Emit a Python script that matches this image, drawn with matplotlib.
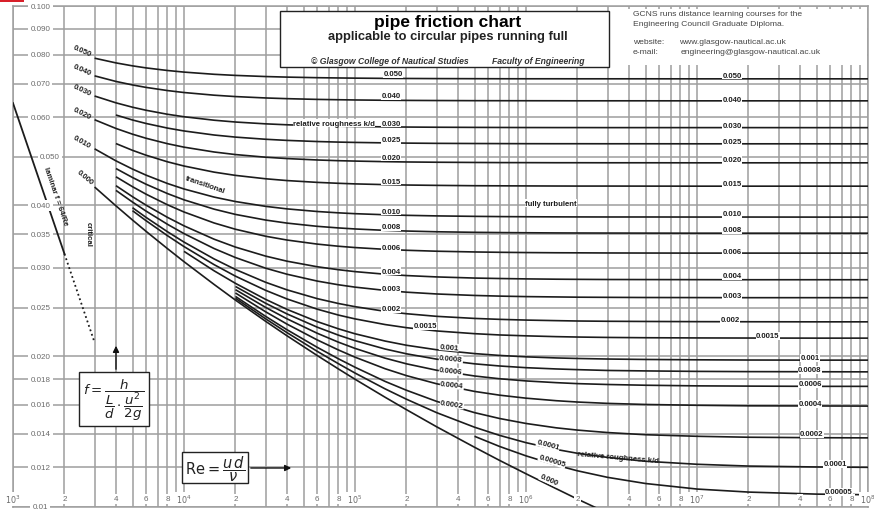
import numpy as np
import matplotlib
matplotlib.use('Agg')
import matplotlib.pyplot as plt
from matplotlib.patches import Rectangle
from matplotlib.ticker import LogLocator, FixedLocator, NullLocator, NullFormatter

# ---------------- data ----------------
re_grid = [3e3, 4e3, 5e3, 6e3, 8e3, 1e4, 1.5e4, 2e4, 3e4, 4e4, 6e4, 8e4, 1e5, 1.5e5,
           2e5, 3e5, 5e5, 7e5, 1e6, 1.5e6, 2e6, 3e6, 5e6, 1e7, 2e7, 5e7, 1e8]

rel_roughness = [0.05, 0.04, 0.03, 0.025, 0.02, 0.015, 0.01, 0.008, 0.006, 0.004, 0.003,
                 0.002, 0.0015, 0.001, 0.0008, 0.0006, 0.0004, 0.0002, 0.0001, 0.00005, 0.0]
roughness_labels = ['0.050', '0.040', '0.030', '0.025', '0.020', '0.015', '0.010', '0.008',
                    '0.006', '0.004', '0.003', '0.002', '0.0015', '0.001', '0.0008', '0.0006',
                    '0.0004', '0.0002', '0.0001', '0.00005', '0.000']
start_re = [3e3, 3e3, 3e3, 4e3, 3e3, 4e3, 3e3, 4e3, 4e3, 4e3, 4e3,
            5e3, 5e3, 1e4, 2e4, 2e4, 2e4, 2e4, 2e4, 5e5, 3e3]

f_0050 = [.07867, .07699, .07595, .07524, .07435, .07380, .07306, .07269, .07231, .07212, .07193, .07184, .07178, .07170,
          .07167, .07163, .07160, .07158, .07157, .07157, .07156, .07156, .07156, .07155, .07155, .07155, .07155]
f_0040 = [.07254, .07070, .06957, .06879, .06780, .06719, .06637, .06595, .06553, .06532, .06510, .06500, .06493, .06484,
          .06480, .06476, .06472, .06471, .06470, .06469, .06468, .06468, .06468, .06467, .06467, .06467, .06467]
f_0030 = [.06612, .06408, .06280, .06193, .06080, .06011, .05916, .05867, .05818, .05793, .05768, .05756, .05748, .05738,
          .05733, .05728, .05724, .05722, .05720, .05719, .05719, .05718, .05718, .05718, .05718, .05717, .05717]
f_0025 = [.06059, .05922, .05828, .05706, .05631, .05527, .05474, .05420, .05392, .05364, .05350, .05342, .05331,
          .05325, .05319, .05315, .05313, .05311, .05310, .05310, .05309, .05309, .05308, .05308, .05308, .05308]
f_0020 = [.05929, .05696, .05548, .05445, .05311, .05227, .05112, .05052, .04991, .04960, .04928, .04912, .04903, .04890,
          .04883, .04877, .04872, .04869, .04868, .04866, .04866, .04865, .04865, .04864, .04864, .04864, .04864]
f_0015 = [.05314, .05151, .05037, .04887, .04793, .04660, .04591, .04520, .04483, .04446, .04427, .04415, .04400,
          .04392, .04385, .04378, .04376, .04374, .04372, .04371, .04371, .04370, .04369, .04369, .04369, .04369]
f_0010 = [.05187, .04908, .04726, .04596, .04423, .04313, .04155, .04071, .03982, .03936, .03889, .03865, .03850, .03831,
          .03821, .03811, .03803, .03799, .03796, .03794, .03793, .03792, .03792, .03791, .03791, .03790, .03790]
f_0008 = [.04738, .04546, .04408, .04223, .04103, .03931, .03837, .03739, .03687, .03633, .03606, .03589, .03566,
          .03555, .03543, .03534, .03530, .03527, .03524, .03523, .03522, .03521, .03520, .03520, .03520, .03520]
f_0006 = [.04562, .04358, .04211, .04011, .03880, .03689, .03584, .03471, .03411, .03348, .03315, .03295, .03268,
          .03254, .03240, .03229, .03224, .03220, .03217, .03216, .03214, .03213, .03212, .03212, .03212, .03212]
f_0004 = [.04379, .04162, .04004, .03786, .03641, .03424, .03302, .03168, .03095, .03017, .02976, .02950, .02915,
          .02897, .02879, .02864, .02858, .02853, .02849, .02847, .02845, .02844, .02843, .02842, .02842, .02842]
f_0003 = [.04285, .04061, .03896, .03667, .03513, .03280, .03147, .02997, .02915, .02825, .02777, .02747, .02706,
          .02684, .02662, .02644, .02636, .02630, .02626, .02623, .02621, .02619, .02618, .02617, .02617, .02617]
f_0002 = [.03957, .03785, .03544, .03379, .03127, .02979, .02809, .02713, .02606, .02548, .02511, .02458,
          .02431, .02402, .02379, .02369, .02361, .02355, .02351, .02348, .02346, .02344, .02343, .02342, .02342]
f_00015 = [.03903, .03728, .03480, .03310, .03046, .02889, .02707, .02602, .02483, .02416, .02374, .02313,
           .02280, .02246, .02218, .02205, .02196, .02188, .02184, .02180, .02177, .02175, .02174, .02173, .02173]
f_0001 = [.03238, .02961, .02795, .02597, .02480, .02345, .02268, .02217, .02144,
          .02103, .02060, .02024, .02007, .01994, .01984, .01979, .01974, .01970, .01967, .01965, .01964, .01964]
f_00008 = [.02755, .02551, .02429, .02286, .02203, .02148, .02067,
           .02022, .01973, .01931, .01912, .01897, .01886, .01880, .01873, .01869, .01865, .01863, .01862, .01861]
f_00006 = [.02715, .02503, .02375, .02223, .02133, .02073, .01982,
           .01931, .01875, .01826, .01803, .01785, .01771, .01763, .01756, .01750, .01745, .01743, .01741, .01741]
f_00004 = [.02674, .02453, .02318, .02156, .02058, .01991, .01888,
           .01829, .01762, .01701, .01672, .01649, .01630, .01620, .01610, .01602, .01596, .01592, .01591, .01590]
f_00002 = [.02632, .02402, .02259, .02084, .01976, .01901, .01781,
           .01710, .01625, .01543, .01502, .01468, .01439, .01424, .01408, .01394, .01384, .01378, .01375, .01374]
f_00001 = [.02610, .02375, .02229, .02046, .01932, .01851, .01721,
           .01641, .01543, .01443, .01390, .01344, .01303, .01280, .01256, .01234, .01217, .01207, .01202, .01200]
f_000005 = [.01384, .01321, .01265, .01212, .01181, .01146, .01114, .01086, .01071, .01061, .01058]
f_smooth = [.04352, .03991, .03739, .03550, .03279, .03088, .02781, .02588, .02348, .02197, .02007, .01886, .01799, .01656,
            .01564, .01446, .01316, .01239, .01165, .01088, .01037, .00972]

laminar_re = [1000, 2000]
laminar_f = [0.064, 0.032]
laminar_dot_re = [2000, 3000]
laminar_dot_f = [0.032, 0.0213]

y_ticks = [0.010, 0.012, 0.014, 0.016, 0.018, 0.020, 0.025, 0.030, 0.035, 0.040,
           0.050, 0.060, 0.070, 0.080, 0.090, 0.100]
y_tick_labels = ['0.01', '0.012', '0.014', '0.016', '0.018', '0.020', '0.025', '0.030', '0.035',
                 '0.040', '0.050', '0.060', '0.070', '0.080', '0.090', '0.100']
x_label_vals = [1e3, 2e3, 4e3, 6e3, 8e3, 1e4, 2e4, 4e4, 6e4, 8e4, 1e5, 2e5, 4e5, 6e5, 8e5,
                1e6, 2e6, 4e6, 6e6, 8e6, 1e7, 2e7, 4e7, 6e7, 8e7, 1e8]
x_label_text = [r'$10^3$', '2', '4', '6', '8', r'$10^4$', '2', '4', '6', '8', r'$10^5$', '2', '4', '6', '8',
                r'$10^6$', '2', '4', '6', '8', r'$10^7$', '2', '4', '6', '8', r'$10^8$']

series = [f_0050, f_0040, f_0030, f_0025, f_0020, f_0015, f_0010, f_0008, f_0006, f_0004, f_0003,
          f_0002, f_00015, f_0001, f_00008, f_00006, f_00004, f_00002, f_00001, f_000005, f_smooth]

# ---------------- figure ----------------
W, H = 874, 510
plt.rcParams['font.family'] = ['Liberation Sans', 'DejaVu Sans']
plt.rcParams['mathtext.fontset'] = 'dejavusans'
fig = plt.figure(figsize=(W / 100, H / 100), dpi=100)
fig.patch.set_facecolor('white')
ax = fig.add_axes([13 / W, 2 / H, 855 / W, 501 / H])
ax.set_xscale('log')
ax.set_yscale('log')
ax.set_xlim(1e3, 1e8)
ax.set_ylim(0.01, 0.1)

GRID = '#9e9e9e'
ax.xaxis.set_major_locator(LogLocator(base=10, subs=np.arange(1, 10), numticks=200))
ax.xaxis.set_minor_locator(NullLocator())
ax.xaxis.set_major_formatter(NullFormatter())
ax.yaxis.set_major_locator(FixedLocator(y_ticks))
ax.yaxis.set_minor_locator(NullLocator())
ax.yaxis.set_major_formatter(NullFormatter())
ax.tick_params(length=0)
ax.grid(True, which='major', color=GRID, lw=1.1)
ax.set_axisbelow(True)
for s in ax.spines.values():
    s.set_color(GRID)
    s.set_linewidth(1.1)


def P(x, y):
    return (x / W, 1 - y / H)


# tick labels (inside the frame)
ytr = ax.get_yaxis_transform()
for v, t in zip(y_ticks, y_tick_labels):
    xx = 0.043 if t == '0.050' else 0.032
    ax.text(xx, v, t, transform=ytr, ha='center', va='center', fontsize=5.8, color='#6a6a6a',
            bbox=dict(fc='white', ec='none', pad=1.6), zorder=4)
xtr = ax.get_xaxis_transform()
for v, t in zip(x_label_vals, x_label_text):
    ax.text(v, 0.016, t, transform=xtr, ha='center', va='center', fontsize=5.8, color='#6a6a6a',
            bbox=dict(fc='white', ec='none', pad=0.8), zorder=4)

# curves
CUR = '#1c1c1c'
for k, fv in enumerate(series):
    i0 = re_grid.index(start_re[k])
    ax.plot(re_grid[i0:i0 + len(fv)], fv, color=CUR, lw=1.2, zorder=3, solid_capstyle='butt')
ax.plot(laminar_re, laminar_f, color=CUR, lw=1.3, zorder=3)
ax.plot(laminar_dot_re, laminar_dot_f, color=CUR, lw=1.3, ls=(0, (1, 1.6)), zorder=3)

# header boxes
ax.add_patch(Rectangle(P(609, 66), 258 / W, 56 / H, transform=fig.transFigure, fc='white', ec='none', zorder=5))
ax.add_patch(Rectangle(P(280, 68), 329 / W, 56 / H, transform=fig.transFigure, fc='white', ec='#222222',
                       lw=1.0, zorder=6))
fig.text(*P(448, 22), 'pipe friction chart', ha='center', va='center', fontsize=12.5, weight='bold', zorder=7)
fig.text(*P(448, 37), 'applicable to circular pipes running full', ha='center', va='center', fontsize=9.3,
         weight='bold', color='#222222', zorder=7)
fig.text(*P(390, 61), '\u00a9 Glasgow College of Nautical Studies', ha='center', va='center', fontsize=6.2,
         weight='bold', style='italic', color='#333333', zorder=7)
fig.text(*P(538, 61), 'Faculty of Engineering', ha='center', va='center', fontsize=6.2,
         weight='bold', style='italic', color='#333333', zorder=7)
info_col = '#444444'
IF = 6.1
fig.text(*P(633, 15), 'GCNS runs distance learning courses for the', ha='left', va='center', fontsize=IF, color=info_col)
fig.text(*P(633, 25), 'Engineering Council Graduate Diploma.', ha='left', va='center', fontsize=IF, color=info_col)
fig.text(*P(633, 43), 'website:', ha='left', va='center', fontsize=IF, color=info_col)
fig.text(*P(679, 43), 'www.glasgow-nautical.ac.uk', ha='left', va='center', fontsize=IF, color=info_col)
fig.text(*P(633, 53), 'e-mail:', ha='left', va='center', fontsize=IF, color=info_col)
fig.text(*P(681, 53), 'engineering@glasgow-nautical.ac.uk', ha='left', va='center', fontsize=IF, color=info_col)

# red scan mark in corner
fig.patches.append(Rectangle((0, 1 - 3 / H), 24 / W, 3 / H, transform=fig.transFigure, fc='#d8202a', ec='none'))

# curve labels
LBL = dict(ha='center', va='center', fontsize=5.6, weight='bold', color='#1e1e1e', zorder=7)
BB = dict(fc='white', ec='none', pad=0.3)
left_pos = {0: (82, 52, -24), 1: (82, 71, -24), 2: (82, 91, -25), 4: (82, 114, -27), 6: (82, 142, -30), 20: (85, 178, -40)}
for k, (x, y, r) in left_pos.items():
    fig.text(*P(x, y), roughness_labels[k], rotation=r, **LBL)
mid_pos = {0: (393, 75), 1: (391, 97), 2: (391, 124), 3: (391, 141), 4: (391, 158), 5: (391, 182), 6: (391, 212),
           7: (391, 228), 8: (391, 248), 9: (391, 272), 10: (391, 290), 11: (391, 310), 12: (425, 327)}
for k, (x, y) in mid_pos.items():
    fig.text(*P(x, y), roughness_labels[k], bbox=BB, **LBL)
low_pos = {13: (449, 348, -5), 14: (451, 360, -5), 15: (451, 372, -6), 16: (452, 386, -6), 17: (452, 405, -8),
           18: (548, 446, -15), 19: (552, 462, -17), 20: (549, 481, -24)}
for k, (x, y, r) in low_pos.items():
    fig.text(*P(x, y), roughness_labels[k], rotation=r, bbox=BB, **LBL)
right_pos = {0: (732, 76), 1: (732, 100), 2: (732, 126), 3: (732, 143), 4: (732, 161), 5: (732, 185), 6: (732, 215),
             7: (732, 231), 8: (732, 252), 9: (732, 277), 10: (732, 297), 11: (730, 321), 12: (768, 337),
             13: (810, 359), 14: (810, 371), 15: (810, 385), 16: (810, 405), 17: (812, 435), 18: (835, 465),
             19: (839, 493)}
for k, (x, y) in right_pos.items():
    fig.text(*P(x, y), roughness_labels[k], bbox=BB, **LBL)

# region annotations
ANN = dict(ha='center', va='center', fontsize=5.6, weight='bold', color='#1e1e1e', zorder=7)
fig.text(*P(334, 124), 'relative roughness k/d', bbox=BB, **ANN)
fig.text(*P(618, 458), 'relative roughness k/d', rotation=-5, **ANN)
fig.text(*P(551, 204), 'fully turbulent', bbox=BB, **ANN)
fig.text(*P(205, 185), 'transitional', rotation=-19, **ANN)
fig.text(*P(88, 234), 'critical', rotation=-90, **ANN)
fig.text(*P(55, 197), 'laminar f = 64/Re', rotation=-71, **ANN)

# formula boxes
ax.add_patch(Rectangle(P(79, 427), 70 / W, 54 / H, transform=fig.transFigure, fc='white', ec='#222222', lw=1.0, zorder=6))
fig.text(*P(114, 400), r'$f=\dfrac{h}{\dfrac{L}{d}\cdot\dfrac{u^2}{2g}}$', ha='center', va='center',
         fontsize=9.6, color='#222222', zorder=8)
ax.add_patch(Rectangle(P(182, 484), 66 / W, 31 / H, transform=fig.transFigure, fc='white', ec='#222222', lw=1.0, zorder=6))
fig.text(*P(215, 469), r'$\mathrm{Re}=\dfrac{u\,d}{\nu}$', ha='center', va='center',
         fontsize=10.5, color='#222222', zorder=8)
ax.annotate('', xy=P(116, 344), xytext=P(116, 373), xycoords='figure fraction', textcoords='figure fraction',
            arrowprops=dict(arrowstyle='-|>', color='#111111', lw=1.0, mutation_scale=9), zorder=8)
ax.annotate('', xy=P(294, 469), xytext=P(248, 469), xycoords='figure fraction', textcoords='figure fraction',
            arrowprops=dict(arrowstyle='-|>', color='#111111', lw=1.0, mutation_scale=9), zorder=8)

fig.savefig('out.png', dpi=100, facecolor='white')
